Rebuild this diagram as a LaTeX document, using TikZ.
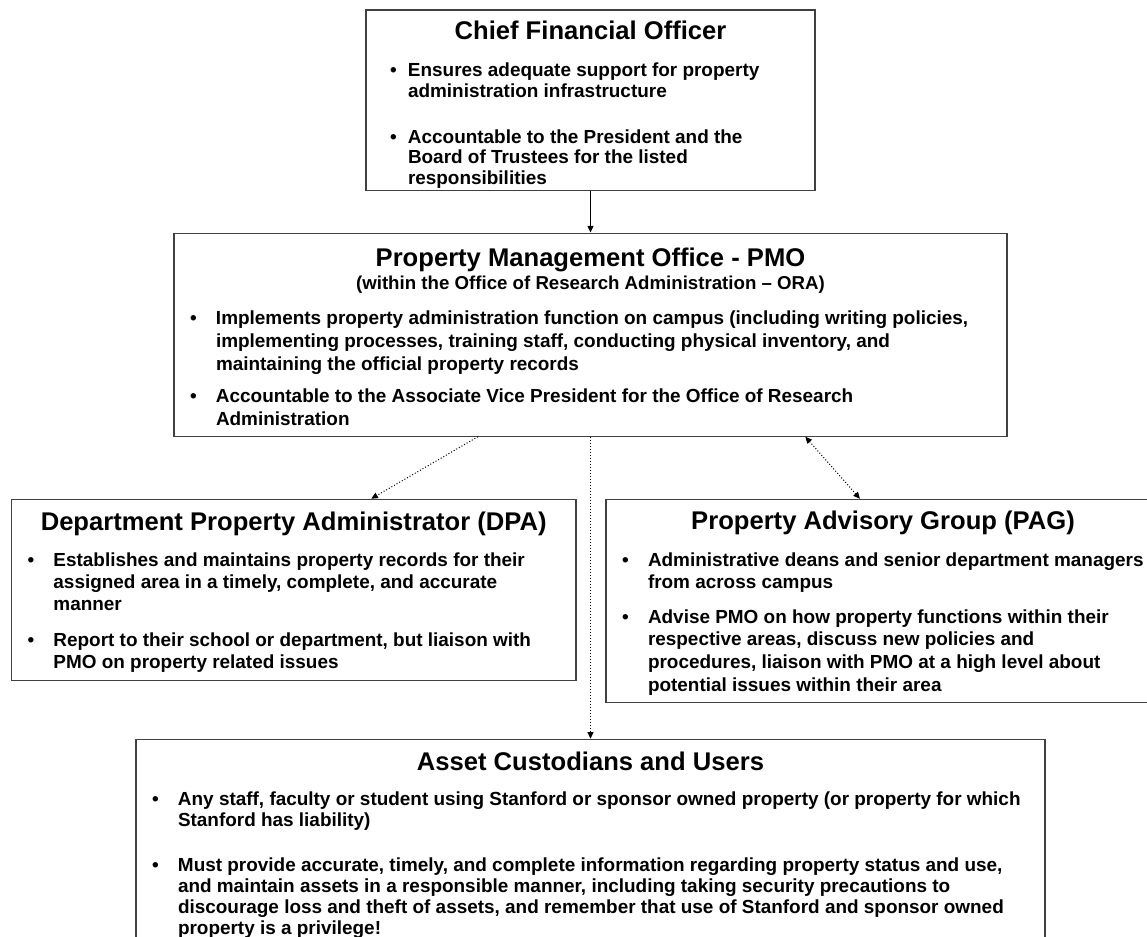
\documentclass[tikz,border=0pt]{standalone}
\usepackage{fontspec}
\setmainfont{Liberation Sans}
\usetikzlibrary{arrows.meta,positioning,calc}

% box contents: heading, sub heading, bullet items
\newcommand{\boxhead}[2]{{\centering\fontsize{19.2pt}{22pt}\selectfont\rule{0pt}{#1}#2\par}}
\newcommand{\boxsub}[1]{{\centering\fontsize{14pt}{17pt}\selectfont #1\par}}
\newcommand{\boxbody}[1]{\fontsize{14.2pt}{#1}\selectfont\parskip=0pt\parindent=0pt
  \leftskip=31.5pt\rightskip=0pt plus 1fil}
\newcommand{\bul}[2][14.5pt]{\par\vspace{#2}\noindent\llap{\textbullet\hspace{#1}}}
\newcommand{\boxpar}[3]{\parbox[c][#2][t]{#1}{#3}}

\begin{document}
\begin{tikzpicture}[
  box/.style={draw=black!75, line width=0.9pt, inner sep=0pt, font=\bfseries},
  arr/.style={-{Triangle[length=5pt, width=4.5pt]}, line width=0.75pt},
  dotarr/.style={line width=0.75pt, dash pattern=on 0.75pt off 1.5pt},
  tip/.style={-{Triangle[length=5pt, width=4.5pt]}},
  tips/.style={{Triangle[length=5pt, width=4.5pt]}-{Triangle[length=5pt, width=4.5pt]}}
]
  \useasboundingbox (0,0) rectangle (860.25pt,-702.75pt);
  \clip (0,0) rectangle (860.25pt,-702.75pt);

  % Top: CFO
  \node[box, anchor=north] (cfo) at (442.875pt,-7pt) {\boxpar{336.75pt}{135.5pt}{%
    \boxhead{22.5pt}{Chief Financial Officer}
    \boxbody{15.5pt}
    \bul[8.5pt]{12pt}Ensures adequate support for property\\
      administration infrastructure
    \bul[8.5pt]{19pt}Accountable to the President and the\\
      Board of Trustees for the listed\\
      responsibilities}};

  % PMO
  \node[box, below=31pt of cfo] (pmo) {\boxpar{624.75pt}{152.25pt}{%
    \boxhead{25pt}{Property Management Office - PMO}
    \boxsub{(within the Office of Research Administration – ORA)}
    \boxbody{17.2pt}
    \bul{9.6pt}Implements property administration function on campus (including writing policies,\\
      implementing processes, training staff, conducting physical inventory, and\\
      maintaining the official property records
    \bul{6.8pt}Accountable to the Associate Vice President for the Office of Research\\
      Administration}};

  % DPA and PAG
  \node[box, anchor=north west] (dpa) at ([xshift=-121.9pt, yshift=-46.5pt]pmo.south west)
    {\boxpar{423.4pt}{135.75pt}{%
    \boxhead{23.5pt}{Department Property Administrator (DPA)}
    \boxbody{16.6pt}
    \bul{10.15pt}Establishes and maintains property records for their\\
      assigned area in a timely, complete, and accurate\\
      manner
    \bul{10.4pt}Report to their school or department, but liaison with\\
      PMO on property related issues}};

  \node[box, anchor=north west] (pag) at ([xshift=324pt, yshift=-46.5pt]pmo.south west)
    {\boxpar{415.5pt}{152.25pt}{%
    \boxhead{22.7pt}{Property Advisory Group (PAG)}
    \boxbody{17pt}
    \bul{10.55pt}Administrative deans and senior department managers\\
      from across campus
    \bul{8.7pt}Advise PMO on how property functions within their\\
      respective areas, discuss new policies and\\
      procedures, liaison with PMO at a high level about\\
      potential issues within their area}};

  % Bottom: custodians
  \node[box, anchor=north] (acu) at ([yshift=-226.5pt]pmo.south)
    {\boxpar{681.75pt}{200pt}{%
    \boxhead{23.5pt}{Asset Custodians and Users}
    \boxbody{15.9pt}
    \bul{10.1pt}Any staff, faculty or student using Stanford or sponsor owned property (or property for which\\
      Stanford has liability)
    \bul{17.65pt}Must provide accurate, timely, and complete information regarding property status and use,\\
      and maintain assets in a responsible manner, including taking security precautions to\\
      discourage loss and theft of assets, and remember that use of Stanford and sponsor owned\\
      property is a privilege!}};

  \draw[arr] (cfo) -- (pmo);
  \draw[dotarr, tip] ($(pmo.south west)!0.365!(pmo.south east)$) -- ($(dpa.north west)!0.637!(dpa.north east)$);
  \draw[dotarr, tips] ($(pmo.south west)!0.7575!(pmo.south east)$) -- ($(pag.north west)!0.4585!(pag.north east)$);
  \draw[dotarr, tip] (pmo.south) -- (acu.north);
\end{tikzpicture}
\end{document}
